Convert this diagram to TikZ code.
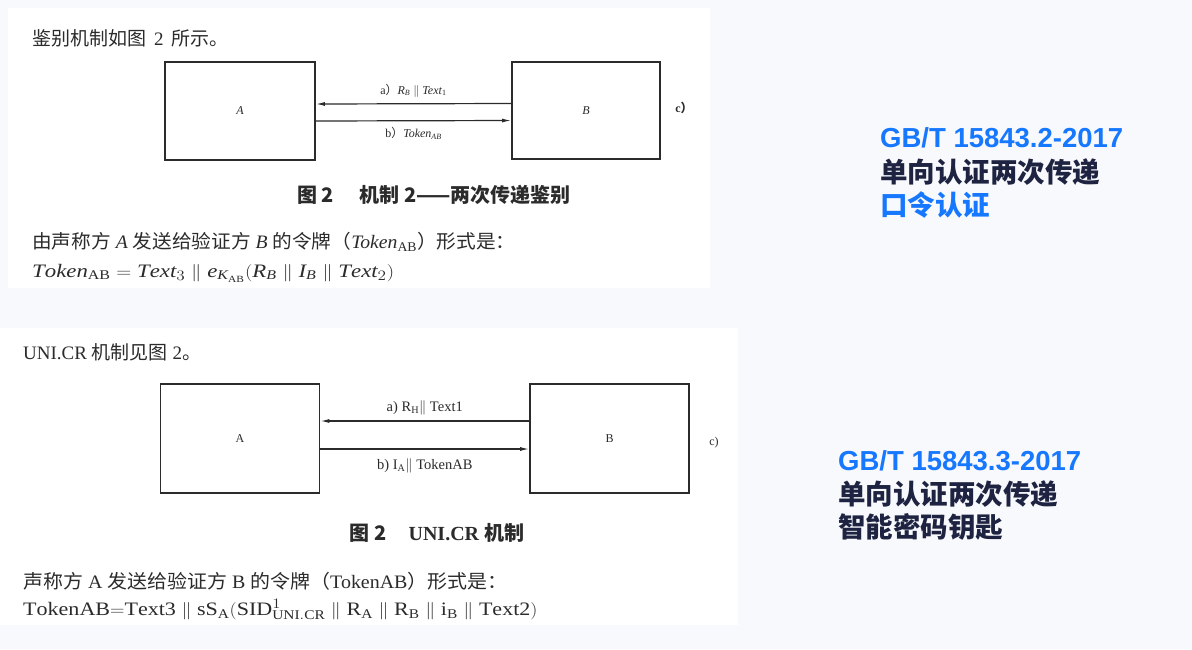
\documentclass[tikz,border=0pt]{standalone}
\usepackage{fontspec}
\setmainfont{Liberation Serif}
\newfontfamily\cjk{Noto Sans CJK SC}
\newfontfamily\headsans{Liberation Sans}
\usetikzlibrary{arrows.meta}
\definecolor{pagebg}{HTML}{F8F9FC}
\definecolor{ink}{HTML}{2B2B2B}
\definecolor{titleblue}{HTML}{1677FF}
\definecolor{titledark}{HTML}{1D2340}
\begin{document}
\begin{tikzpicture}[x=1pt, y=-1pt,
    party/.style={draw=ink, line width=1.8pt, inner sep=0pt, text=ink, font=\fontsize{12}{14}\selectfont},
    msg/.style={draw=ink, line width=1.2pt, -{Latex[length=9pt, width=4pt]}},
    tag/.style={inner sep=0pt, text=ink, font=\fontsize{12}{14}\selectfont},
    body/.style={anchor=west, inner sep=0pt, text=ink, font=\fontsize{19}{22}\selectfont},
    figcap/.style={inner sep=0pt, text=ink, font=\fontsize{20}{24}\selectfont\bfseries},
    slidenote/.style={anchor=west, inner sep=0pt, font=\fontsize{27.5}{32}\selectfont\bfseries}]
    \useasboundingbox[fill=pagebg] (0,0) rectangle (1192,649);
    \fill[white] (8,8) rectangle (710,288);
    \fill[white] (0,328) rectangle (738,625);
    % upper scan: mechanism 2
    \node[body] (intro2) at (32,38) {{\cjk 鉴别机制如图}\, 2 \,{\cjk 所示。}};
    \node[party, minimum width=150pt, minimum height=98pt] (topA) at (240,111) {\itshape A};
    \node[party, minimum width=148pt, minimum height=97pt] (topB) at (586,110.5) {\itshape B};
    \node[tag, font=\fontsize{12}{14}\selectfont\bfseries] (topC) at (684,108) {c{\cjk ）}};
    \draw[msg] ([yshift=7pt]topB.west) -- ([yshift=7pt]topA.east)
        node[tag, midway, above=6pt] {a{\cjk ）}\textit{R}\textsubscript{\textit{B}} $\|$ \textit{Text}\textsubscript{1}};
    \draw[msg] ([yshift=-10pt]topA.east) -- ([yshift=-10pt]topB.west)
        node[tag, midway, below=6pt] {b{\cjk ）}\textit{Token}\textsubscript{\textit{AB}}};
    \node[figcap] (cap2) at (434,195) {\cjk 图 2\hspace{1.3em}机制 2——两次传递鉴别};
    \node[body] (form2) at (32,242) {\scalebox{1.035}[1]{{\cjk 由声称方} \textit{A} {\cjk 发送给验证方} \textit{B} {\cjk 的令牌（}\textit{Token}\textsubscript{AB}{\cjk ）形式是：}}};
    \node[body] (tok2) at (32,273) {\scalebox{1.2}[1]{$\mathit{Token}_{\mathrm{AB}}=\mathit{Text}_3\parallel \mathit{e}_{\mathit{K}_{\mathrm{AB}}}(\mathit{R}_{\mathit{B}}\parallel \mathit{I}_{\mathit{B}}\parallel \mathit{Text}_2)$}};
    % lower scan: UNI.CR
    \node[body] (intro3) at (23,352) {UNI.CR {\cjk 机制见图} 2{\cjk 。}};
    \node[party, minimum width=159pt, minimum height=109pt] (lowA) at (240,438.5) {A};
    \node[party, minimum width=159pt, minimum height=109pt] (lowB) at (609.5,438.5) {B};
    \node[tag] (lowC) at (714,443) {c)};
    \draw[msg] ([yshift=17.5pt]lowB.west) -- ([yshift=17.5pt]lowA.east)
        node[tag, midway, above=5pt, font=\fontsize{14.5}{16}\selectfont] {a) R\textsubscript{H}$\|$ Text1};
    \draw[msg] ([yshift=-10.5pt]lowA.east) -- ([yshift=-10.5pt]lowB.west)
        node[tag, midway, below=9pt, font=\fontsize{14.5}{16}\selectfont] {b) I\textsubscript{A}$\|$ TokenAB};
    \node[figcap] (cap3) at (437,533) {{\cjk 图 2}\hspace{1.1em}UNI.CR {\cjk 机制}};
    \node[body] (form3) at (23,581) {\scalebox{1.05}[1]{{\cjk 声称方} A {\cjk 发送给验证方} B {\cjk 的令牌（}TokenAB{\cjk ）形式是：}}};
    \node[body] (tok3) at (23,611) {\scalebox{1.16}[1]{$\mathrm{TokenAB}{=}\mathrm{Text3}\parallel \mathrm{sS}_{\mathrm{A}}(\mathrm{SID}^{\smash{1}}_{\smash{\mathrm{UNI.CR}}}\parallel \mathrm{R}_{\mathrm{A}}\parallel \mathrm{R}_{\mathrm{B}}\parallel \mathrm{i}_{\mathrm{B}}\parallel \mathrm{Text2})$}};
    % slide notes on the right
    \node[slidenote, text=titleblue] (std2) at (880,138) {\headsans GB/T 15843.2-2017};
    \node[slidenote, text=titledark] (kind2) at (880,172) {\cjk 单向认证两次传递};
    \node[slidenote, text=titleblue] (use2) at (880,205) {\cjk 口令认证};
    \node[slidenote, text=titleblue] (std3) at (838,461) {\headsans GB/T 15843.3-2017};
    \node[slidenote, text=titledark] (kind3) at (838,494) {\cjk 单向认证两次传递};
    \node[slidenote, text=titledark] (use3) at (838,527) {\cjk 智能密码钥匙};
\end{tikzpicture}
\end{document}
